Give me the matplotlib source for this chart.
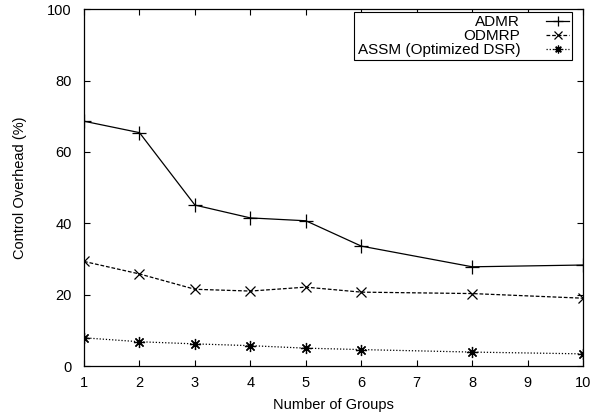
import matplotlib
matplotlib.use("Agg")
import matplotlib.pyplot as plt

plt.rcParams['font.family'] = ['Liberation Sans', 'DejaVu Sans']
plt.rcParams['font.size'] = 10.5

# number of multicast groups
groups = [1, 2, 3, 4, 5, 6, 8, 10]

# control overhead (%) per protocol
admr = [68.6, 65.4, 45.1, 41.5, 40.7, 33.6, 27.8, 28.3]
odmrp = [29.3, 25.8, 21.5, 21.0, 22.1, 20.7, 20.3, 19.0]
assm = [7.9, 6.8, 6.2, 5.7, 5.0, 4.6, 3.9, 3.4]

fig = plt.figure(figsize=(5.95, 4.17), dpi=100)
ax = fig.add_axes([0.1412, 0.1223, 0.8388, 0.8557])

ax.plot(groups, admr, color='black', lw=0.9, marker='+', ms=10.5, mew=0.9,
        label='ADMR')
ax.plot(groups, odmrp, color='black', lw=0.9, ls=(0, (3, 1.5)), marker='x',
        ms=7.5, mew=0.9, label='ODMRP')
ax.plot(groups, assm, color='black', lw=0.9, ls=(0, (1, 1.5)),
        marker=(8, 2, 0), ms=8, mew=0.9, label='ASSM (Optimized DSR)')

ax.set_xlim(1, 10)
ax.set_ylim(0, 100)
ax.set_xticks(range(1, 11))
ax.set_yticks(range(0, 101, 20))
ax.tick_params(direction='in', length=4, width=0.8, top=True, right=True,
               pad=7)
ax.tick_params(axis='y', pad=9)
for s in ax.spines.values():
    s.set_linewidth(0.9)

ax.set_xlabel('Number of Groups', labelpad=6)
ax.set_ylabel('Control Overhead (%)', labelpad=14)

# gnuplot-style key: labels right-aligned, sample line on the right
leg = ax.legend(loc='upper right', bbox_to_anchor=(0.978, 0.9916),
                borderaxespad=0, markerfirst=False, fancybox=False,
                framealpha=1, edgecolor='black', fontsize=11,
                handlelength=1.5, handletextpad=1.7, labelspacing=0.0,
                borderpad=0.2, markerscale=0.7)
leg.get_frame().set_linewidth(0.8)
for col in leg._legend_handle_box.get_children():
    col.align = 'right'

fig.savefig('out.png', dpi=100)
